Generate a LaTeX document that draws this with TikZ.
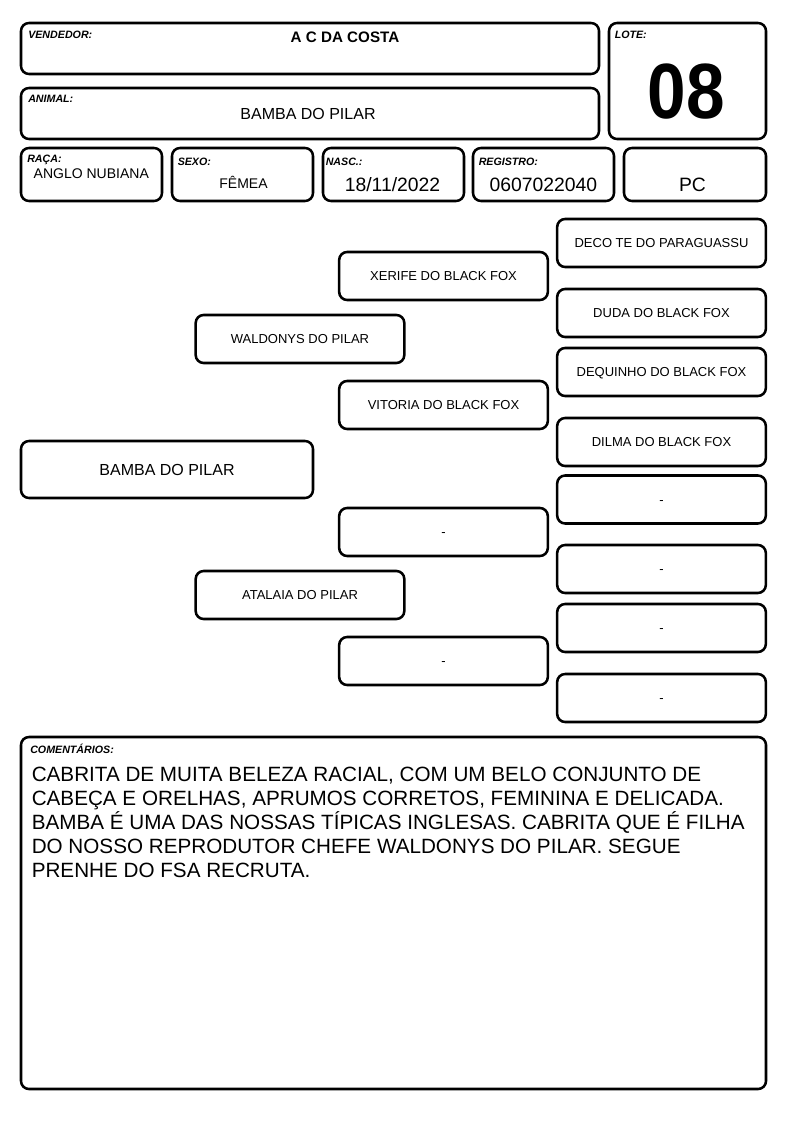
\documentclass[tikz,border=0pt]{standalone}
\usepackage{fontspec}
\setmainfont{Liberation Sans}
\usetikzlibrary{positioning}
\tikzset{
    %Define style for boxes
    caixa/.style={
           rectangle,
           rounded corners=6pt,
           draw=black, line width=1.9pt,
           inner sep=0pt},
    % boxes of the pedigree
    ped/.style={
           caixa,
           minimum width=156.5pt,
           minimum height=36pt,
           text height=7pt, text depth=0pt,
           font=\fontsize{9.75}{11}\selectfont},
    % small boxes of the header
    dado/.style={
           caixa,
           minimum width=105.75pt,
           minimum height=39.75pt},
    % field titles
    rotulo/.style={
           anchor=base west,
           inner sep=0pt,
           font=\fontsize{8}{9}\selectfont\bfseries\itshape},
    % field values
    valor/.style={
           anchor=base,
           inner sep=0pt,
           font=\fontsize{14.5}{16}\selectfont}
}
\begin{document}
\begin{tikzpicture}[x=0.75pt,y=-0.75pt]
\useasboundingbox (0,0) rectangle (794,1123);
% header
\node[caixa, minimum width=433.5pt, minimum height=38.25pt](vend) at (310,48.5){};
\node[caixa, minimum width=433.5pt, minimum height=38.25pt](anim) at (310,113.5){};
\node[caixa, minimum width=117.75pt, minimum height=87pt](lote) at (687.5,81){};
\node[dado](raca) at (91.5,174.5){};
\node[dado](sexo) at (242.5,174.5){};
\node[dado](nasc) at (393.5,174.5){};
\node[dado](reg) at (543.5,174.5){};
\node[dado, minimum width=106.5pt](cat) at (695,174.5){};
\node[rotulo](tvend) at (28,39){VENDEDOR:};
\node[rotulo](tanim) at (28,103){ANIMAL:};
\node[rotulo](tlote) at (614.5,39){LOTE:};
\node[rotulo](traca) at (27,162.5){RAÇA:};
\node[rotulo](tsexo) at (177.5,165.5){SEXO:};
\node[rotulo](tnasc) at (325.5,165.5){NASC.:};
\node[rotulo](treg) at (478.5,165.5){REGISTRO:};
\node[valor, font=\fontsize{11.4}{13}\selectfont\bfseries](vvend) at (345,42.7){A C DA COSTA};
\node[valor, font=\fontsize{12}{14}\selectfont](vanim) at (308,119.3){BAMBA DO PILAR};
\node[valor](vlote) at (686.5,118.3){\scalebox{1}[1.13]{\fontsize{52}{56}\selectfont\bfseries 08}};
\node[valor, font=\fontsize{10.5}{12}\selectfont](vraca) at (91.3,178.3){ANGLO NUBIANA};
\node[valor, font=\fontsize{10.5}{12}\selectfont](vsexo) at (243.5,189){FÊMEA};
\node[valor](vnasc) at (392.5,191.7){18/11/2022};
\node[valor](vreg) at (543.3,191.7){0607022040};
\node[valor](vcat) at (692.5,191.7){PC};
% pedigree
\node[caixa, minimum width=219pt, minimum height=42.75pt, font=\fontsize{12}{14}\selectfont](animal) at (167,469.5){BAMBA DO PILAR};
\node[ped](pai) at (300,339){WALDONYS DO PILAR};
\node[ped](mae) at (300,595){ATALAIA DO PILAR};
\node[ped](avop) at (443.5,276){XERIFE DO BLACK FOX};
\node[ped](avap) at (443.5,405){VITORIA DO BLACK FOX};
\node[ped](avom) at (443.5,532){-};
\node[ped](avam) at (443.5,661){-};
\node[ped](bis1) at (661.5,243){DECO TE DO PARAGUASSU};
\node[ped](bis2) at (661.5,313){DUDA DO BLACK FOX};
\node[ped](bis3) at (661.5,372){DEQUINHO DO BLACK FOX};
\node[ped](bis4) at (661.5,442){DILMA DO BLACK FOX};
\node[ped](bis5) at (661.5,499.5){-};
\node[ped](bis6) at (661.5,569){-};
\node[ped](bis7) at (661.5,628){-};
\node[ped](bis8) at (661.5,698){-};
% comments
\node[caixa, minimum width=558.75pt, minimum height=264pt](coment) at (393.5,913){};
\node[rotulo](tcoment) at (30,753){COMENTÁRIOS:};
\node[anchor=north west, inner sep=0pt, align=left, font=\fontsize{15.5}{18}\selectfont](vcoment) at (31.5,766.5){CABRITA DE MUITA BELEZA RACIAL, COM UM BELO CONJUNTO DE\\
CABEÇA E ORELHAS, APRUMOS CORRETOS, FEMININA E DELICADA.\\
BAMBA É UMA DAS NOSSAS TÍPICAS INGLESAS. CABRITA QUE É FILHA\\
DO NOSSO REPRODUTOR CHEFE WALDONYS DO PILAR. SEGUE\\
PRENHE DO FSA RECRUTA.};
\end{tikzpicture}
\end{document}
